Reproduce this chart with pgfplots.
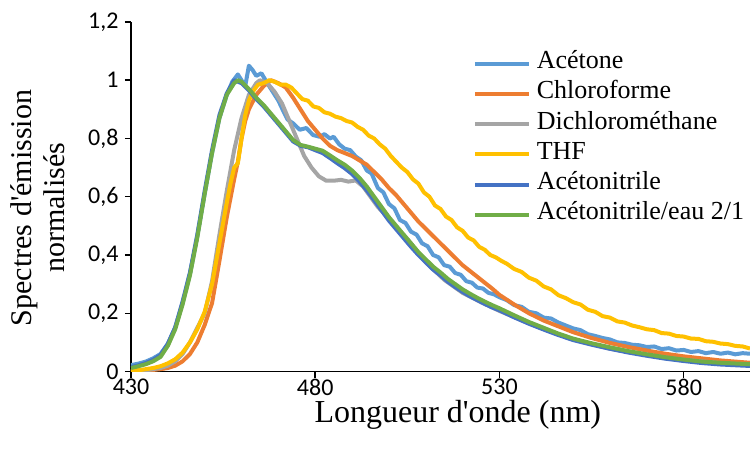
\documentclass[border=0pt]{standalone}
\usepackage{pgfplots}
\pgfplotsset{compat=1.18}
\usepackage{fontspec}
\setmainfont{Liberation Serif}
\newfontfamily\tickfont{Carlito}
\definecolor{cAce}{HTML}{5B9BD5}
\definecolor{cChl}{HTML}{ED7D31}
\definecolor{cDcm}{HTML}{A5A5A5}
\definecolor{cThf}{HTML}{FFC000}
\definecolor{cAcn}{HTML}{4472C4}
\definecolor{cAcw}{HTML}{70AD47}
\begin{document}
\begin{tikzpicture}
\begin{axis}[
  name=ax,
  scale only axis,
  width=619bp, height=349.5bp,
  xmin=430, xmax=598, ymin=0, ymax=1.2,
  axis x line*=bottom, axis y line*=left,
  axis line style={line width=1.5bp, black},
  xtick={430,480,530,580},
  ytick={0,0.2,0.4,0.6,0.8,1,1.2},
  tick align=outside,
  major tick length=6bp,
  tick style={line width=1.5bp, black},
  /pgf/number format/assume math mode=true,
  /pgf/number format/use comma,
  /pgf/number format/1000 sep={},
  ticklabel style={font=\tickfont\fontsize{24bp}{24bp}\selectfont},
  xticklabel style={yshift=2bp},
  yticklabel style={xshift=-3bp},
  xlabel={Longueur d\textquotesingle onde (nm)},
  xlabel style={font=\fontsize{32bp}{32bp}\selectfont, at={(axis description cs:0.528,-0.123)}, anchor=center},
  ylabel={Spectres d\textquotesingle émission\\normalisés},
  ylabel style={font=\fontsize{30bp}{33bp}\selectfont, align=center, at={(axis description cs:-0.151,0.468)}, anchor=center},
  legend cell align=left,
  legend style={draw=none, fill=none, at={(axis description cs:0.547,0.93)}, anchor=north west,
    font=\fontsize{26bp}{26bp}\selectfont, row sep=0pt, column sep=6bp,
    nodes={inner sep=0pt, text height=20bp, text depth=10.2bp}},
  legend image code/.code={\draw[#1, line width=4bp] (0bp,0bp) -- (54bp,0bp);},
  every axis plot post/.append style={line width=4bp, line join=round, no markers},
]
% Acetone
\addplot[cAce] coordinates {
(430,0.022)(432,0.027)(434,0.034)(436,0.045)(438,0.06)(440,0.095)(442,0.15)(444,0.235)(446,0.335)(448,0.465)
(450,0.61)(452,0.75)(454,0.87)(456,0.95)(457.5,0.995)(459,1.02)(460,1.0)(461,0.98)(462,1.05)(463,1.035)
(464,1.015)(465.4,1.024)(467,0.99)(468.5,0.96)(470,0.93)(471.5,0.89)(472.5,0.865)(474,0.852)(475.8,0.83)(477.6,0.836)
(479.4,0.812)(481.2,0.806)(482.5,0.815)(484,0.8)(485,0.806)(486.5,0.78)(488,0.765)(489.5,0.76)(491,0.738)(492.5,0.725)
(494,0.69)(495.3,0.68)(497,0.63)(498.5,0.615)(500,0.575)(501.5,0.56)(503,0.52)(504.5,0.51)(506,0.48)(507.5,0.47)
(509,0.44)(510.5,0.43)(512,0.4)(513.5,0.392)(515,0.365)(516.5,0.36)(518,0.338)(519.5,0.332)(521,0.31)(522.5,0.305)
(524,0.288)(525.5,0.285)(527,0.27)(528.5,0.265)(530,0.255)(532,0.245)(534,0.228)(536,0.222)(538,0.205)(540,0.2)
(542,0.185)(544,0.182)(546,0.168)(548,0.158)(550,0.148)(552,0.142)(554,0.128)(556,0.122)(558,0.115)(560,0.11)
(562,0.1)(564,0.098)(566,0.092)(568,0.09)(570,0.084)(572,0.086)(574,0.077)(576,0.08)(578,0.072)(580,0.074)
(582,0.067)(584,0.07)(586,0.063)(588,0.067)(590,0.061)(592,0.065)(594,0.059)(596,0.063)(598,0.061)
};
\addlegendentry{Acétone}
% Chloroforme
\addplot[cChl] coordinates {
(430,0.0)(435,0.004)(438,0.008)(440,0.012)(442,0.02)(444,0.035)(446,0.06)(448,0.1)(450,0.16)(452,0.235)
(454,0.38)(456,0.53)(458,0.66)(459,0.72)(460,0.8)(461,0.86)(462,0.9)(464,0.95)(466,0.98)(468,1.0)
(470,0.99)(472,0.975)(474,0.94)(476,0.9)(478,0.86)(480,0.83)(482,0.8)(484,0.775)(486,0.76)(488,0.75)
(490,0.74)(492,0.725)(494,0.71)(496,0.685)(498,0.66)(500,0.63)(502,0.605)(504,0.575)(506,0.545)(508,0.515)
(510,0.49)(512,0.465)(514,0.44)(516,0.415)(518,0.39)(520,0.365)(522,0.345)(524,0.325)(526,0.305)(528,0.285)
(530,0.263)(534,0.23)(538,0.2)(542,0.175)(546,0.155)(550,0.135)(555,0.115)(560,0.098)(565,0.084)(570,0.072)
(575,0.061)(580,0.052)(585,0.045)(590,0.038)(598,0.03)
};
\addlegendentry{Chloroforme}
% Dichloromethane
\addplot[cDcm] coordinates {
(430,0.0)(435,0.006)(438,0.012)(440,0.02)(442,0.035)(444,0.06)(446,0.1)(448,0.15)(450,0.2)(452,0.31)
(454,0.47)(456,0.62)(458,0.76)(460,0.87)(462,0.95)(464,0.99)(465,1.0)(467,0.99)(469,0.96)(471,0.92)
(473,0.86)(475,0.8)(477,0.74)(479,0.7)(481,0.67)(483,0.655)(485,0.655)(487,0.658)(489,0.652)(491,0.656)
(493,0.635)(495,0.6)(497,0.565)(500,0.525)(502,0.495)(505,0.455)(510,0.375)(515,0.315)(520,0.27)(525,0.238)
(530,0.208)(540,0.155)(550,0.11)(560,0.078)(570,0.056)(580,0.04)(590,0.029)(598,0.022)
};
\addlegendentry{Dichlorométhane}
% THF
\addplot[cThf] coordinates {
(430,0.003)(433,0.006)(436,0.012)(438,0.018)(440,0.028)(442,0.042)(444,0.065)(446,0.1)(448,0.145)(450,0.205)
(452,0.3)(454,0.44)(456,0.58)(457,0.645)(458,0.7)(459,0.715)(460,0.8)(461,0.88)(462,0.93)(463,0.96)
(464.5,0.985)(466,0.99)(467.5,1.0)(469,0.995)(470.5,0.985)(472,0.985)(473.5,0.975)(475,0.955)(476.5,0.935)(478,0.93)
(479.5,0.91)(481,0.905)(482.5,0.89)(484,0.885)(485.5,0.875)(487,0.87)(488.5,0.86)(490,0.855)(491.5,0.84)(493,0.83)
(494.5,0.81)(496,0.8)(497.5,0.78)(499,0.765)(500.5,0.74)(502,0.72)(503.5,0.7)(505,0.685)(506.5,0.66)(508,0.645)
(509.5,0.615)(511,0.6)(512.5,0.57)(514,0.558)(515.5,0.532)(517,0.52)(518.5,0.495)(520,0.483)(521.5,0.46)(523,0.45)
(524.5,0.428)(526,0.418)(527.5,0.4)(529,0.392)(530.5,0.38)(532,0.37)(534,0.352)(536,0.342)(538,0.322)(540,0.312)
(542,0.292)(544,0.282)(546,0.262)(548,0.252)(550,0.238)(552,0.23)(554,0.212)(556,0.205)(558,0.19)(560,0.185)
(562,0.172)(564,0.168)(566,0.158)(568,0.152)(570,0.145)(572,0.142)(574,0.132)(576,0.13)(578,0.122)(580,0.12)
(582,0.113)(584,0.112)(586,0.104)(588,0.102)(590,0.096)(592,0.094)(594,0.088)(596,0.086)(598,0.079)
};
\addlegendentry{THF}
% Acetonitrile
\addplot[cAcn] coordinates {
(430,0.015)(432,0.021)(434,0.029)(436,0.04)(438,0.056)(440,0.095)(442,0.152)(444,0.24)(446,0.34)(448,0.47)
(450,0.62)(452,0.76)(454,0.88)(456,0.955)(458,1.0)(460,0.99)(462,0.965)(464,0.935)(466,0.91)(468,0.88)
(470,0.85)(472,0.82)(474,0.79)(476,0.775)(478,0.77)(480,0.76)(482,0.75)(484,0.733)(486,0.715)(488,0.698)
(490,0.678)(492,0.652)(494,0.622)(496,0.588)(498,0.553)(500,0.518)(502,0.488)(504,0.458)(506,0.428)(508,0.4)
(510,0.375)(512,0.35)(514,0.33)(516,0.308)(518,0.29)(520,0.273)(522,0.258)(524,0.245)(526,0.232)(528,0.22)
(530,0.21)(534,0.186)(538,0.164)(542,0.144)(546,0.125)(550,0.108)(555,0.092)(560,0.078)(565,0.065)(570,0.054)
(575,0.044)(580,0.036)(585,0.029)(590,0.024)(598,0.019)
};
\addlegendentry{Acétonitrile}
% Acetonitrile/eau
\addplot[cAcw] coordinates {
(430,0.012)(432,0.018)(434,0.025)(436,0.035)(438,0.05)(440,0.088)(442,0.145)(444,0.23)(446,0.33)(448,0.46)
(450,0.61)(452,0.75)(454,0.87)(456,0.95)(458,0.99)(459,1.0)(460,0.995)(462,0.97)(464,0.94)(466,0.915)
(468,0.885)(470,0.855)(472,0.825)(474,0.795)(476,0.778)(478,0.772)(480,0.765)(482,0.758)(484,0.742)(486,0.725)
(488,0.71)(490,0.69)(492,0.665)(494,0.635)(496,0.6)(498,0.565)(500,0.53)(502,0.5)(504,0.47)(506,0.44)
(508,0.41)(510,0.385)(512,0.36)(514,0.34)(516,0.318)(518,0.3)(520,0.282)(522,0.267)(524,0.253)(526,0.24)
(528,0.228)(530,0.217)(534,0.193)(538,0.17)(542,0.15)(546,0.13)(550,0.113)(555,0.097)(560,0.083)(565,0.07)
(570,0.059)(575,0.049)(580,0.041)(585,0.034)(590,0.03)(598,0.025)
};
\addlegendentry{Acétonitrile/eau 2/1}
\end{axis}
\pgfresetboundingbox
\path[use as bounding box] (ax.south west) ++(-131bp,-78.5bp) rectangle ++(750bp,450bp);
\end{tikzpicture}
\end{document}
